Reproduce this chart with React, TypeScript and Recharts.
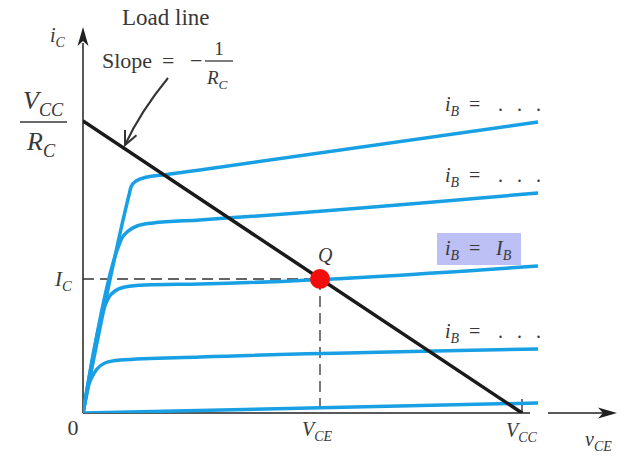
import React from 'react';
import { LineChart, Line, XAxis, YAxis, ReferenceLine, ReferenceDot } from 'recharts';

// vCE / iC in arbitrary units (origin at the axes corner)
const curveTop = [
  { x: 0, y: 0 }, { x: 46, y: 218 }, { x: 48, y: 226 }, { x: 53, y: 232 },
  { x: 64, y: 236 }, { x: 80, y: 238 }, { x: 117, y: 243 }, { x: 455, y: 291 },
];
const curveSecond = [
  { x: 0, y: 0 }, { x: 36, y: 168 }, { x: 39, y: 175 }, { x: 44, y: 181 },
  { x: 54, y: 187 }, { x: 70, y: 190 }, { x: 117, y: 193 }, { x: 455, y: 220 },
];
const curveQ = [
  { x: 0, y: 0 }, { x: 23, y: 110 }, { x: 26, y: 116 }, { x: 32, y: 122 },
  { x: 42, y: 126 }, { x: 62, y: 128 }, { x: 117, y: 129 }, { x: 455, y: 147 },
];
const curveFourth = [
  { x: 0, y: 0 }, { x: 6, y: 29 }, { x: 9, y: 36 }, { x: 14, y: 44 },
  { x: 22, y: 50 }, { x: 37, y: 53 }, { x: 117, y: 56 }, { x: 455, y: 64 },
];
const curveBottom = [{ x: 0, y: 0 }, { x: 455, y: 10 }];

const VCC = 439;
const VCC_RC = 292;
const VCE_Q = 237;
const IC_Q = 134;
const loadLine = [{ x: 0, y: VCC_RC }, { x: VCC, y: 0 }];

const curves = [curveTop, curveSecond, curveQ, curveFourth, curveBottom];
const ibLabels = ['. . .', '. . .', 'IB', '. . .'];

const serif = '"Liberation Serif", "Times New Roman", serif';
const ink = '#383838';
const blue = '#199fe4';

const Sym = ({ x, y, main, sub, size = 20, italic = true, anchor = 'start' }: any) => (
  <text x={x} y={y} fontFamily={serif} fontSize={size} fontStyle={italic ? 'italic' : 'normal'} fill={ink} textAnchor={anchor}>
    {main}
    {sub && <tspan fontSize={size * 0.7} dy={size * 0.25}>{sub}</tspan>}
  </text>
);

const ibText = (label: string, cx: number, cy: number) => {
  const y = cy - 11;
  return (
    <g>
      {label === 'IB' && <rect x={cx - 101} y={cy - 33} width={84} height={32} fill="#bdc0f4" />}
      <Sym x={cx - 93} y={y} main="i" sub="B" />
      <text x={cx - 69} y={y} fontFamily={serif} fontSize={20} fill={ink}>=</text>
      {label === 'IB' ? (
        <Sym x={cx - 42} y={y} main="I" sub="B" />
      ) : (
        [-40, -21, -2].map((d) => (
          <text key={d} x={cx + d} y={y} fontFamily={serif} fontSize={20} fill={ink}>.</text>
        ))
      )}
    </g>
  );
};

export default function App() {
  return (
    <div style={{ position: 'absolute', left: 0, top: 0, width: 635, height: 460, background: '#fff' }}>
      <LineChart width={635} height={460} margin={{ top: 28, right: 17, bottom: 47, left: 83 }}>
        <XAxis type="number" dataKey="x" domain={[0, 535]} hide allowDataOverflow />
        <YAxis type="number" dataKey="y" domain={[0, 385]} hide allowDataOverflow />

        {/* dashed guides to the Q point */}
        <ReferenceLine segment={[{ x: 0, y: IC_Q }, { x: VCE_Q, y: IC_Q }]} stroke="#333" strokeWidth={1.3} strokeDasharray="11 6" ifOverflow="visible" />
        <ReferenceLine segment={[{ x: VCE_Q, y: IC_Q }, { x: VCE_Q, y: 0 }]} stroke="#333" strokeWidth={1.3} strokeDasharray="11 6" ifOverflow="visible" />

        {/* axes */}
        <ReferenceLine segment={[{ x: 0, y: 0 }, { x: 0, y: 370 }]} stroke="#222" strokeWidth={1.5} ifOverflow="visible" />
        <ReferenceLine segment={[{ x: 0, y: 0 }, { x: 447, y: 0 }]} stroke="#222" strokeWidth={1.5} ifOverflow="visible" />
        <ReferenceLine segment={[{ x: 465, y: 0 }, { x: 522, y: 0 }]} stroke="#222" strokeWidth={1.5} ifOverflow="visible" />
        <ReferenceLine segment={[{ x: VCC, y: 0 }, { x: VCC, y: 14 }]} stroke="#222" strokeWidth={1.3} ifOverflow="visible" />

        {curves.map((c, i) => (
          <Line key={i} data={c} dataKey="y" type="monotone" stroke={blue} strokeWidth={3.5} dot={false} activeDot={false} isAnimationActive={false} />
        ))}
        <Line data={loadLine} dataKey="y" type="linear" stroke="#1a1a1a" strokeWidth={3.5} dot={false} activeDot={false} isAnimationActive={false} />

        {/* arrowheads */}
        <ReferenceDot x={535} y={0} ifOverflow="visible" shape={(p: any) => (
          <path d={`M${p.cx - 1},${p.cy} l-19,-5.5 l5,5.5 l-5,5.5 Z`} fill="#222" />
        )} />
        <ReferenceDot x={0} y={386} ifOverflow="visible" shape={(p: any) => (
          <path d={`M${p.cx},${p.cy} l-5.5,19 l5.5,-5 l5.5,5 Z`} fill="#222" />
        )} />

        {/* Q point */}
        <ReferenceDot x={VCE_Q} y={IC_Q} r={10} fill="#f20d0d" stroke="none" ifOverflow="visible" />
        <ReferenceDot x={VCE_Q} y={IC_Q} ifOverflow="visible" shape={(p: any) => (
          <Sym x={p.cx - 2} y={p.cy - 17} main="Q" />
        )} />

        {/* x axis labels */}
        <ReferenceDot x={0} y={0} ifOverflow="visible" shape={(p: any) => (
          <Sym x={p.cx - 10} y={p.cy + 22} main="0" italic={false} size={22} anchor="middle" />
        )} />
        <ReferenceDot x={VCE_Q} y={0} ifOverflow="visible" shape={(p: any) => (
          <Sym x={p.cx - 18} y={p.cy + 23} main="V" sub="CE" />
        )} />
        <ReferenceDot x={VCC} y={0} ifOverflow="visible" shape={(p: any) => (
          <Sym x={p.cx - 16} y={p.cy + 24} main="V" sub="CC" />
        )} />
        <ReferenceDot x={502} y={0} ifOverflow="visible" shape={(p: any) => (
          <Sym x={p.cx} y={p.cy + 33} main="v" sub="CE" />
        )} />

        {/* y axis labels */}
        <ReferenceDot x={0} y={386} ifOverflow="visible" shape={(p: any) => (
          <Sym x={p.cx - 33} y={p.cy + 15} main="i" sub="C" />
        )} />
        <ReferenceDot x={0} y={IC_Q} ifOverflow="visible" shape={(p: any) => (
          <Sym x={p.cx - 28} y={p.cy + 7} main="I" sub="C" size={21} />
        )} />
        <ReferenceDot x={0} y={VCC_RC} ifOverflow="visible" shape={(p: any) => (
          <g>
            <Sym x={p.cx - 60} y={p.cy - 12} main="V" sub="CC" size={26} />
            <line x1={p.cx - 63} x2={p.cx - 16} y1={p.cy + 1} y2={p.cy + 1} stroke={ink} strokeWidth={1.5} />
            <Sym x={p.cx - 56} y={p.cy + 29} main="R" sub="C" size={26} />
          </g>
        )} />

        {/* load line callout */}
        <ReferenceDot x={42} y={265} ifOverflow="visible" shape={(p: any) => {
          const tx = p.cx;
          const ty = p.cy - 3;
          return (
            <g>
              <path d={`M${tx + 43},${ty - 67} Q${tx + 15.5},${ty - 33.5} ${tx},${ty}`} fill="none" stroke="#333" strokeWidth={2} />
              <path d={`M${tx},${ty - 15} L${tx},${ty} L${tx + 11.5},${ty - 9.7}`} fill="none" stroke="#333" strokeWidth={2} />
              <text x={tx - 3} y={ty - 120} fontFamily={serif} fontSize={23} fill={ink}>Load line</text>
              <text x={tx - 23} y={ty - 77} fontFamily={serif} fontSize={22} fill={ink}>Slope</text>
              <text x={tx + 37} y={ty - 77} fontFamily={serif} fontSize={22} fill={ink}>=</text>
              <text x={tx + 65} y={ty - 77} fontFamily={serif} fontSize={22} fill={ink}>−</text>
              <line x1={tx + 80} x2={tx + 108} y1={ty - 84} y2={ty - 84} stroke={ink} strokeWidth={1.3} />
              <text x={tx + 94} y={ty - 90} fontFamily={serif} fontSize={19} fill={ink} textAnchor="middle">1</text>
              <Sym x={tx + 82} y={ty - 61} main="R" sub="C" size={19} />
            </g>
          );
        }} />

        {/* base current labels */}
        {ibLabels.map((lab, i) => {
          const c = curves[i];
          const end = c[c.length - 1];
          return (
            <ReferenceDot key={`ib-${i}`} x={end.x} y={end.y} ifOverflow="visible" shape={(p: any) => ibText(lab, p.cx, p.cy)} />
          );
        })}
      </LineChart>
    </div>
  );
}
